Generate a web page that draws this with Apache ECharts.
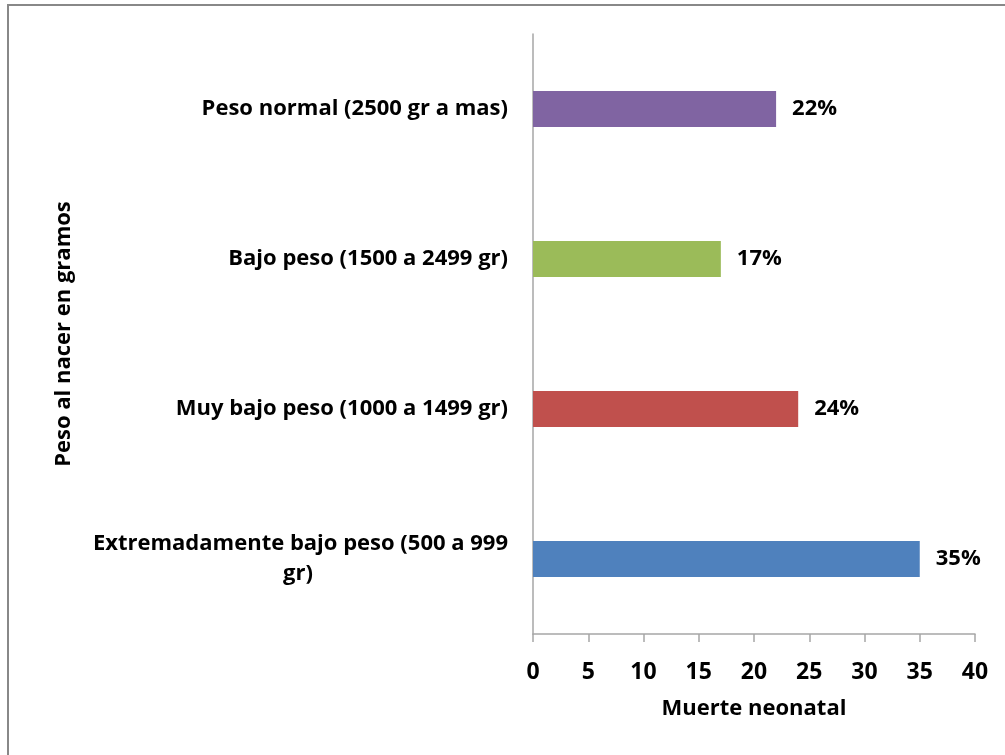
<!DOCTYPE html>
<html>
<head>
<meta charset="utf-8">
<script src="https://cdn.jsdelivr.net/npm/echarts@6/dist/echarts.min.js"></script>
<style>
  html, body { margin: 0; padding: 0; background: #fff; }
  #frame {
    position: absolute; left: 7px; top: 4px; width: 998px; height: 751px;
    border-left: 2px solid #888; border-top: 2px solid #888; box-sizing: border-box;
  }
  #main { position: absolute; left: 0; top: 0; width: 1005px; height: 755px; }
</style>
</head>
<body>
<div id="frame"></div>
<div id="main"></div>
<script>
// categories from bottom to top
var categories = [
  "Extremadamente bajo peso (500 a 999 gr)",
  "Muy bajo peso (1000 a 1499 gr)",
  "Bajo peso (1500 a 2499 gr)",
  "Peso normal (2500 gr a mas)"
];
var values = [35, 24, 17, 22];
var barColors = ["#4F81BD", "#C0504D", "#9BBB59", "#8064A2"];
var xTicks = [0, 5, 10, 15, 20, 25, 30, 35, 40];

var font = "'Open Sans', sans-serif";
var myChart = echarts.init(document.getElementById("main"), null, { renderer: "canvas" });

var option = {
  backgroundColor: "transparent",
  animation: false,
  grid: { left: 533, right: 30, top: 34, bottom: 121, containLabel: false },
  xAxis: {
    type: "value",
    min: xTicks[0],
    max: xTicks[xTicks.length - 1],
    interval: 5,
    name: "Muerte neonatal",
    nameLocation: "middle",
    nameGap: 64,
    nameTextStyle: { color: "#000", fontSize: 22, fontWeight: "bold", fontFamily: font },
    splitLine: { show: false },
    axisLine: { show: true, lineStyle: { color: "#A6A6A6", width: 1.5 } },
    axisTick: { show: true, length: 8, lineStyle: { color: "#A6A6A6", width: 1.5 } },
    axisLabel: { color: "#000", fontSize: 23, fontWeight: "bold", fontFamily: font, margin: 27 }
  },
  yAxis: {
    type: "category",
    data: categories,
    name: "Peso al nacer en gramos",
    nameLocation: "middle",
    nameGap: 458,
    nameRotate: 90,
    nameTextStyle: { color: "#000", fontSize: 22, fontWeight: "bold", fontFamily: font },
    axisLine: { show: true, lineStyle: { color: "#A6A6A6", width: 1.5 } },
    axisTick: { show: false },
    axisLabel: {
      color: "#000", fontSize: 22, fontWeight: "bold", fontFamily: font, margin: 25,
      formatter: function (v) {
        if (v.length > 32) {
          var i = v.lastIndexOf(" ");
          return "{a|" + v.slice(0, i) + "}\n{b|" + v.slice(i + 1) + "}";
        }
        return v;
      },
      rich: {
        a: { color: "#000", fontSize: 22, fontWeight: "bold", fontFamily: font, lineHeight: 30 },
        b: { color: "#000", fontSize: 22, fontWeight: "bold", fontFamily: font, lineHeight: 30, width: 420, align: "center" }
      }
    }
  },
  series: [
    {
      type: "bar",
      barWidth: 36,
      data: values.map(function (v, i) {
        return { value: v, itemStyle: { color: barColors[i] } };
      }),
      label: {
        show: true,
        position: "right",
        distance: 16,
        formatter: "{c}%",
        color: "#000",
        fontSize: 22,
        fontWeight: "bold",
        fontFamily: font
      }
    }
  ]
};
myChart.setOption(option);
</script>
</body>
</html>
